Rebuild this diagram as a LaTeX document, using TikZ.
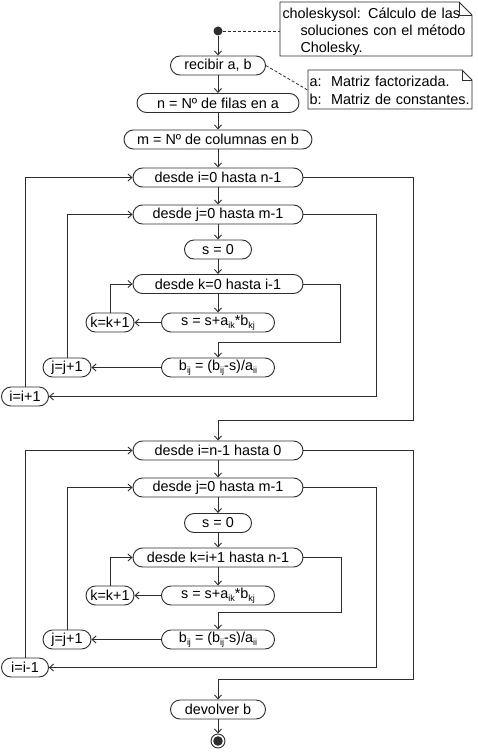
\documentclass[tikz,border=0pt]{standalone}
\usepackage{fontspec}
\setmainfont{Liberation Sans}
\usetikzlibrary{arrows.meta,calc}
\definecolor{ln}{RGB}{45,45,45}
\newcommand\lsub[1]{\raisebox{-2.5pt}{\fontsize{9}{9}\selectfont #1}}
\begin{document}
\begin{tikzpicture}[x=1pt,y=-1pt, line width=0.9pt,
  box/.style={draw=ln, rounded corners=9.5pt, minimum height=19pt, inner sep=0pt, text=black},
  arr/.style={draw=ln, -{Straight Barb[length=4pt,width=7pt]}},
  notetxt/.style={inner sep=0pt, align=left, text=black},
  noteline/.style={draw=ln, line width=0.8pt},
  dashcon/.style={draw=ln, line width=0.8pt, dash pattern=on 3pt off 2pt},
  every node/.style={font=\fontsize{14.4}{17}\selectfont}]
\fill[white] (0,0) rectangle (477,752);
\useasboundingbox (0,0) rectangle (477,752);

% start and notes
\node[circle, fill=ln, minimum size=9pt, inner sep=0pt] (start) at (218,31) {};
\node[notetxt, minimum width=192pt, minimum height=54pt, text width=187pt] (note1) at (376,31.5)
  {choleskysol: Cálculo de las\\\hspace*{18pt}soluciones con el método\\\hspace*{18pt}Cholesky.};
\draw[noteline] (280,2) -- (459,2) -- (472,15) -- (472,56) -- (280,56) -- cycle;
\draw[noteline] (459,2) -- (459,15) -- (472,15);

\node[box, minimum width=95pt] (rec) at (218,65.5) {recibir a, b};
\node[notetxt, minimum width=164pt, minimum height=39pt, text width=161pt, font=\fontsize{14.4}{18}\selectfont] (note2) at (390,90)
  {a:\ \ Matriz factorizada.\\b:\ \ Matriz de constantes.};
\draw[noteline] (308,70) -- (462,70) -- (472,80) -- (472,109) -- (308,109) -- cycle;
\draw[noteline] (462,70) -- (462,80) -- (472,80);

\draw[dashcon] (start.east) -- (start.east -| note1.west);
\draw[dashcon] (rec.east) -- (note2.west);

% first part
\node[box, minimum width=162pt] (nfil) at (218,103) {n = Nº de filas en a};
\node[box, minimum width=188pt] (mcol) at (218,139.5) {m = Nº de columnas en b};
\node[box, minimum width=170pt] (di1) at (218,177.5) {desde i=0 hasta n-1};
\node[box, minimum width=170pt] (dj1) at (218,214.5) {desde j=0 hasta m-1};
\node[box, minimum width=67pt] (s01) at (218,249.5) {s = 0};
\node[box, minimum width=170pt] (dk1) at (218,284) {desde k=0 hasta i-1};
\node[box, minimum width=113pt] (sum1) at (218,322.5) {s = s+a\lsub{ik}*b\lsub{kj}};
\node[box, minimum width=48pt] (k1) at (110,322.5) {k=k+1};
\node[box, minimum width=113pt] (bij1) at (218,367.5) {b\lsub{ij} = (b\lsub{ij}-s)/a\lsub{ii}};
\node[box, minimum width=48pt] (j1) at (67,367.5) {j=j+1};
\node[box, minimum width=47pt] (i1) at (25,396.5) {i=i+1};
\coordinate (k1c) at (340,342);
\coordinate (j1c) at (376,396.5);
\coordinate (i1c) at (413,420);

% second part
\node[box, minimum width=170pt] (di2) at (218,450.5) {desde i=n-1 hasta 0};
\node[box, minimum width=170pt] (dj2) at (218,487.5) {desde j=0 hasta m-1};
\node[box, minimum width=67pt] (s02) at (218,523) {s = 0};
\node[box, minimum width=170pt] (dk2) at (218,557.5) {desde k=i+1 hasta n-1};
\node[box, minimum width=113pt] (sum2) at (218,595.5) {s = s+a\lsub{ik}*b\lsub{kj}};
\node[box, minimum width=48pt] (k2) at (110,595.5) {k=k+1};
\node[box, minimum width=113pt] (bij2) at (218,639.5) {b\lsub{ij} = (b\lsub{ij}-s)/a\lsub{ii}};
\node[box, minimum width=48pt] (j2) at (67,639.5) {j=j+1};
\node[box, minimum width=47pt] (i2) at (25,667.5) {i=i-1};
\coordinate (k2c) at (341,612);
\coordinate (j2c) at (376,667.5);
\coordinate (i2c) at (413,679);

\node[box, minimum width=95pt] (dev) at (218,709.5) {devolver b};
\node[circle, draw=ln, minimum size=14pt, inner sep=0pt] (end) at (218,741) {};
\fill[ln] (end.center) circle (4.8pt);

% connectors
\draw[arr] (start) -- (rec);
\draw[arr] (rec) -- (nfil);
\draw[arr] (nfil) -- (mcol);
\draw[arr] (mcol) -- (di1);
\draw[arr] (di1) -- (dj1);
\draw[arr] (dj1) -- (s01);
\draw[arr] (s01) -- (dk1);
\draw[arr] (dk1) -- (sum1);
\draw[arr] (sum1.west) -- (k1.east);
\draw[arr] (k1.north) |- (dk1.west);
\draw[arr] (dk1.east) -| (k1c) -| (bij1.north);
\draw[arr] (bij1.west) -- (j1.east);
\draw[arr] (j1.north) |- (dj1.west);
\draw[arr] (dj1.east) -| (j1c) -- (i1.east);
\draw[arr] (i1.north) |- (di1.west);
\draw[arr] (di1.east) -| (i1c) -| (di2.north);

\draw[arr] (di2) -- (dj2);
\draw[arr] (dj2) -- (s02);
\draw[arr] (s02) -- (dk2);
\draw[arr] (dk2) -- (sum2);
\draw[arr] (sum2.west) -- (k2.east);
\draw[arr] (k2.north) |- (dk2.west);
\draw[arr] (dk2.east) -| (k2c) -| (bij2.north);
\draw[arr] (bij2.west) -- (j2.east);
\draw[arr] (j2.north) |- (dj2.west);
\draw[arr] (dj2.east) -| (j2c) -- (i2.east);
\draw[arr] (i2.north) |- (di2.west);
\draw[arr] (di2.east) -| (i2c) -| (dev.north);
\draw[arr] (dev) -- (end);
\end{tikzpicture}
\end{document}
